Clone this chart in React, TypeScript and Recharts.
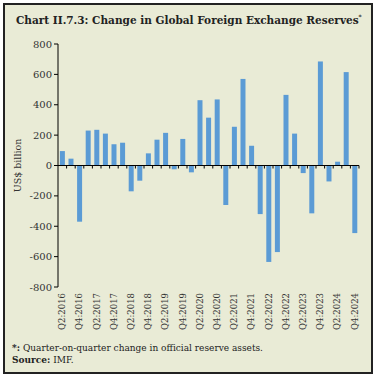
import { BarChart, Bar, XAxis, YAxis, ReferenceLine } from 'recharts';

// quarters Q2:2016 .. Q4:2024
const QUARTERS = [
  'Q2:2016', 'Q3:2016', 'Q4:2016',
  'Q1:2017', 'Q2:2017', 'Q3:2017', 'Q4:2017',
  'Q1:2018', 'Q2:2018', 'Q3:2018', 'Q4:2018',
  'Q1:2019', 'Q2:2019', 'Q3:2019', 'Q4:2019',
  'Q1:2020', 'Q2:2020', 'Q3:2020', 'Q4:2020',
  'Q1:2021', 'Q2:2021', 'Q3:2021', 'Q4:2021',
  'Q1:2022', 'Q2:2022', 'Q3:2022', 'Q4:2022',
  'Q1:2023', 'Q2:2023', 'Q3:2023', 'Q4:2023',
  'Q1:2024', 'Q2:2024', 'Q3:2024', 'Q4:2024',
];

// US$ billion
const CHANGE = [
  95, 45, -370,
  230, 235, 210, 140,
  150, -170, -100, 80,
  170, 215, -25, 175,
  -45, 430, 315, 435,
  -260, 255, 570, 130,
  -320, -635, -570, 465,
  210, -50, -315, 685,
  -105, 25, 615, -445,
];

const Y_TICKS = [-800, -600, -400, -200, 0, 200, 400, 600, 800];

const rows = QUARTERS.map((q, i) => ({ q, v: CHANGE[i] }));

const FONT = '"DejaVu Serif", serif';
const BG = '#e9ebd6';
const BAR = '#5b9bd5';
const INK = '#333';

const W = 377;
const H = 378;
const M = { top: 44, right: 18, bottom: 41, left: 0 };
const Y_W = 58;
const X_H = 50;
const PLOT_TOP = M.top;
const PLOT_H = H - M.top - M.bottom - X_H;
const PLOT_W = W - M.left - M.right - Y_W;
const BAND = PLOT_W / QUARTERS.length;
const ZERO_Y = PLOT_TOP + PLOT_H / 2;

// label every second quarter, tick mark at every category boundary on the zero line
function QuarterTick(props: any) {
  const { x, payload, index } = props;
  const top = PLOT_TOP + PLOT_H + 6;
  return (
    <g>
      <line x1={x + BAND / 2} x2={x + BAND / 2} y1={ZERO_Y} y2={ZERO_Y + 3} stroke="#000" strokeWidth={1} />
      {index % 2 === 0 && (
        <text
          x={x}
          y={top}
          transform={`rotate(-90 ${x} ${top})`}
          textAnchor="end"
          dy="0.35em"
          fontSize={8.5}
          fontFamily={FONT}
          fill={INK}
        >
          {payload.value}
        </text>
      )}
    </g>
  );
}

export default function App() {
  return (
    <div style={{ position: 'absolute', left: 0, top: 0, width: W, height: H, background: '#fff' }}>
      <div
        style={{
          position: 'absolute',
          left: 3,
          top: 3,
          width: 366,
          height: 367,
          background: BG,
          border: '2px solid #222',
        }}
      />
      <div
        style={{
          position: 'absolute',
          left: 16,
          top: 13,
          fontFamily: FONT,
          fontWeight: 'bold',
          fontSize: 10.5,
          color: '#222',
          whiteSpace: 'nowrap',
        }}
      >
        Chart II.7.3: Change in Global Foreign Exchange Reserves<sup style={{ fontSize: 6 }}>*</sup>
      </div>
      <div style={{ position: 'absolute', left: 0, top: 0 }}>
        <BarChart width={W} height={H} data={rows} margin={M} barCategoryGap="22%">
          <XAxis
            dataKey="q"
            interval={0}
            height={X_H}
            axisLine={false}
            tickLine={false}
            tick={<QuarterTick />}
          />
          <YAxis
            width={Y_W}
            domain={[-800, 800]}
            ticks={Y_TICKS}
            interval={0}
            axisLine={{ stroke: '#000' }}
            tickLine={{ stroke: '#000' }}
            tickSize={4}
            tick={{ fontSize: 10, fontFamily: FONT, fill: INK }}
            label={{
              value: 'US$ billion',
              angle: -90,
              position: 'insideLeft',
              offset: 18,
              style: { textAnchor: 'middle', fontSize: 9.5, fontFamily: FONT, fill: INK },
            }}
          />
          <ReferenceLine y={0} stroke="#000" strokeWidth={1} ifOverflow="extendDomain" />
          <Bar dataKey="v" fill={BAR} isAnimationActive={false} />
        </BarChart>
      </div>
      <div
        style={{
          position: 'absolute',
          left: 12,
          top: 342,
          fontFamily: FONT,
          fontSize: 9,
          color: '#222',
          lineHeight: '12px',
          whiteSpace: 'nowrap',
        }}
      >
        <div>
          <b>*:</b> Quarter-on-quarter change in official reserve assets.
        </div>
        <div>
          <b>Source:</b> IMF.
        </div>
      </div>
    </div>
  );
}
